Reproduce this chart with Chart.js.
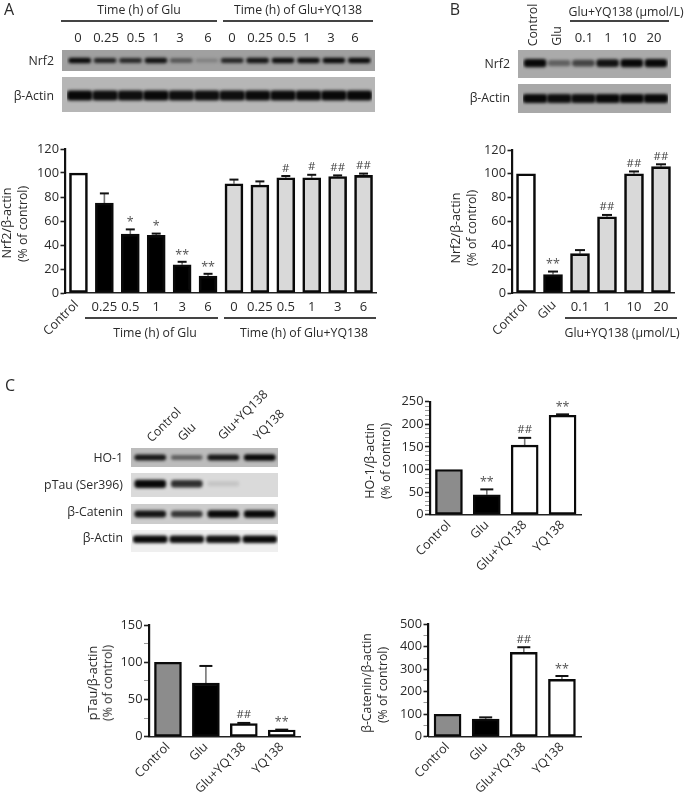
<!DOCTYPE html>
<html><head><meta charset="utf-8">
<style>
html,body{margin:0;padding:0;background:#fff;width:685px;height:793px;overflow:hidden}
#page{position:relative;width:685px;height:793px;filter:blur(0.45px)}
canvas{position:absolute}
.t{position:absolute;white-space:nowrap;color:#2a2a2a;font-family:"Open Sans",sans-serif;line-height:1}
.r{position:absolute;background:#444}
</style>
<script src="https://cdn.jsdelivr.net/npm/chart.js@4"></script>
</head><body><div id="page"></div>
<script>
// ---------- Panel A bars ----------
const catsA = ['Control','0.25','0.5','1','3','6','0','0.25','0.5','1','3','6'];
const valsA = [100,75,49,48,23.5,14,91,90,96,96,97,98];
const errsA = [100,83,53,49.5,26,16,94.5,93,97.5,98.5,98,99.5];
const marksA = ['','','*','*','**','**','','','#','#','##','##'];
const fillsA = ['#ffffff','#000','#000','#000','#000','#000','#d9d9d9','#d9d9d9','#d9d9d9','#d9d9d9','#d9d9d9','#d9d9d9'];
// ---------- Panel B bars ----------
const catsB = ['Control','Glu','0.1','1','10','20'];
const valsB = [100,15.5,33,64,100,106];
const errsB = [100,18,36,65.5,102,108];
const marksB = ['','**','','##','##','##'];
const fillsB = ['#ffffff','#000','#d9d9d9','#d9d9d9','#d9d9d9','#d9d9d9'];
// ---------- Panel C bars ----------
const catsC = ['Control','Glu','Glu+YQ138','YQ138'];
const fillsC = ['#8c8c8c','#000','#ffffff','#ffffff'];
const valsHO = [100,44,154,220];
const errsHO = [100,56,170,222];
const marksHO = ['','**','##','**'];
const valsTau = [100,72,17.5,9];
const errsTau = [100,95,18.5,9.5];
const marksTau = ['','','##','**'];
const valsCat = [100,78,375,255];
const errsCat = [100,86,398,270];
const marksCat = ['','','##','**'];
// ---------- Blot band strengths (0..1) per lane ----------
const laneA = ['0','0.25','0.5','1','3','6','0','0.25','0.5','1','3','6'];
const nrf2A = [1,.82,.78,.92,.5,.22,.8,.9,.95,.95,.97,.97];
const actinA = [1,.95,.95,1,.95,.95,.95,.97,.97,.97,1,1];
const laneB = ['Control','Glu','0.1','1','10','20'];
const nrf2B = [1,.45,.62,.92,1,1];
const actinB = [1,.95,.95,1,1,1];
const laneC = ['Control','Glu','Glu+YQ138','YQ138'];
const ho1C = [.9,.5,.9,1];
const tauC = [1,.8,.1,0];
const cateninC = [.92,.75,1,1];
const actinC = [1,.95,.95,1];

const FONT='"Open Sans",sans-serif';
const page=document.getElementById('page');

function text(s,x,y,opt={}){
  const d=document.createElement('div');d.className='t';d.textContent=s;
  const size=opt.size||12.3;
  d.style.fontSize=size+'px';d.style.left=x+'px';d.style.top=y+'px';
  const tx=opt.right?'-100%':'-50%';
  d.style.transform=`translate(${tx},-50%) rotate(${opt.rot||0}deg)`;
  if(opt.color)d.style.color=opt.color;
  page.appendChild(d);
}
function rule(x1,x2,y){
  const d=document.createElement('div');d.className='r';
  d.style.left=x1+'px';d.style.top=(y-0.6)+'px';d.style.width=(x2-x1)+'px';d.style.height='1.2px';
  page.appendChild(d);
}
function mkCanvas(x,y,w,h){
  const c=document.createElement('canvas');c.width=w;c.height=h;
  c.style.left=x+'px';c.style.top=y+'px';c.style.width=w+'px';c.style.height=h+'px';
  page.appendChild(c);return c;
}

const errPlugin={id:'err',
  beforeDatasetsDraw(chart){
    const o=chart.config.options.plugins.err,y=chart.scales.y,ctx=chart.ctx,m=chart.getDatasetMeta(0);
    ctx.save();
    o.tops.forEach((t,i)=>{
      if(t<=o.vals[i])return;
      const x=m.data[i].x,p=y.getPixelForValue(t),b=y.getPixelForValue(o.vals[i]);
      ctx.strokeStyle='#777';ctx.lineWidth=1.6;ctx.beginPath();ctx.moveTo(x,b);ctx.lineTo(x,p);ctx.stroke();
      ctx.strokeStyle='#111';ctx.lineWidth=2;ctx.beginPath();ctx.moveTo(x-o.cap/2,p);ctx.lineTo(x+o.cap/2,p);ctx.stroke();
    });
    ctx.restore();
  },
  afterDatasetsDraw(chart){
    const o=chart.config.options.plugins.err,y=chart.scales.y,ctx=chart.ctx,m=chart.getDatasetMeta(0);
    ctx.save();ctx.textAlign='center';ctx.textBaseline='alphabetic';
    o.marks.forEach((s,i)=>{
      if(!s)return;
      const x=m.data[i].x,p=y.getPixelForValue(Math.max(o.tops[i],o.vals[i]));
      const star=s[0]==='*';
      ctx.fillStyle=star?'#555':'#444';
      ctx.font=(star?'12.5px ':'11.5px ')+FONT;
      ctx.fillText(s,x,p-(star?3.2:4.5));
    });
    ctx.restore();
  }
};

function barChart(c){
  const box=c.box,a=c.area;
  const cv=mkCanvas(box[0],box[1],box[2],box[3]);
  const major=c.major;
  new Chart(cv,{
    type:'bar',
    data:{labels:c.cats,datasets:[{data:c.vals,backgroundColor:c.fills,borderColor:'#0a0a0a',borderWidth:c.bw||2.6,borderSkipped:false,barThickness:c.bar}]},
    plugins:[errPlugin],
    options:{
      responsive:false,animation:false,devicePixelRatio:1,
      layout:{autoPadding:false,padding:{left:0,top:a[1]-box[1],right:box[0]+box[2]-a[2],bottom:0}},
      plugins:{legend:{display:false},tooltip:{enabled:false},err:{tops:c.errs,vals:c.vals,marks:c.marks,cap:c.cap}},
      scales:{
        x:{type:'category',offset:true,
          afterFit(s){s.height=box[1]+box[3]-a[3];},
          grid:{display:true,drawOnChartArea:false,drawTicks:false},
          border:{color:'#222',width:1.6},
          ticks:{font:{family:FONT,size:c.xSize||13},color:'#2a2a2a',padding:c.xPad,autoSkip:false,
            minRotation:c.rot||0,maxRotation:c.rot||0,
            callback(v,i){const l=this.getLabelForValue(v);return c.hide&&c.hide.includes(i)?'':l;}}
        },
        y:{type:'linear',min:0,max:c.max,
          afterFit(s){s.width=a[0]-box[0];},
          grid:{drawOnChartArea:false,drawTicks:true,tickLength:5,
            tickColor:t=>t.tick&&t.tick.value%major===0?'#222':'#999',
            tickWidth:t=>t.tick&&t.tick.value%major===0?1.6:1},
          border:{color:'#111',width:2.2},
          ticks:{stepSize:c.step,autoSkip:false,font:{family:FONT,size:12.8},color:'#2a2a2a',padding:1.5,
            callback:v=>v%major===0?String(v):''}
        }
      }
    }
  });
}

const blurPlugin={id:'blur',
  beforeDraw(chart){const o=chart.config.options.plugins.blur,ctx=chart.ctx;ctx.save();ctx.fillStyle=o.bg;ctx.fillRect(0,0,chart.width,chart.height);ctx.restore();},
  beforeDatasetsDraw(chart){chart.ctx.save();chart.ctx.filter='blur('+chart.config.options.plugins.blur.px+'px)';},
  afterDatasetsDraw(chart){chart.ctx.restore();}
};
function blot(c){
  const r=c.rect;
  const cv=mkCanvas(r[0],r[1],r[2]-r[0],r[3]-r[1]);
  const cy=c.cy,h=c.h;
  new Chart(cv,{
    type:'bar',
    data:{labels:c.lanes,datasets:[{
      data:c.vals.map(v=>[cy-h*(0.5+0.5*v)/2,cy+h*(0.5+0.5*v)/2]),
      backgroundColor:c.vals.map(v=>`rgba(8,8,8,${Math.min(1,v*1.02)})`),
      borderSkipped:false,borderRadius:c.rad||3,barThickness:c.w}]},
    plugins:[blurPlugin],
    options:{responsive:false,animation:false,devicePixelRatio:1,
      layout:{autoPadding:false,padding:{left:c.lanesAt[0]-r[0],right:r[2]-c.lanesAt[1],top:0,bottom:0}},
      plugins:{legend:{display:false},tooltip:{enabled:false},blur:{bg:c.bg,px:c.px||1.5}},
      scales:{x:{display:false,offset:true},y:{display:false,min:0,max:1}}
    }
  });
}

// ===== Blots =====
blot({rect:[62,50,375,71],lanes:laneA,vals:nrf2A,cy:.5,h:.24,w:22,bg:'#a0a0a0',lanesAt:[67,372]});
blot({rect:[62,77,375,112],lanes:laneA,vals:actinA,cy:.47,h:.27,w:25,bg:'#b6b6b6',lanesAt:[67,372]});
blot({rect:[518,50,671,78],lanes:laneB,vals:nrf2B,cy:.53,h:.27,w:22,bg:'#aaaaaa',lanesAt:[523,668]});
blot({rect:[518,84,671,113],lanes:laneB,vals:actinB,cy:.5,h:.29,w:24,bg:'#a8a8a8',lanesAt:[523,668]});
blot({rect:[131,448,278,467],lanes:laneC,vals:ho1C,cy:.5,h:.3,w:31,bg:'#bcbcbc',lanesAt:[132,278]});
blot({rect:[131,473,278,497],lanes:laneC,vals:tauC,cy:.55,h:.32,w:31,bg:'#dadada',lanesAt:[132,278]});
blot({rect:[131,504,278,524],lanes:laneC,vals:cateninC,cy:.5,h:.34,w:31,bg:'#cccccc',lanesAt:[132,278]});
blot({rect:[131,530,278,552],lanes:laneC,vals:actinC,cy:.58,h:.32,w:34,bg:'#efefef',lanesAt:[132,278]});

// ===== Bar charts =====
barChart({box:[0,135,400,180],area:[65.5,149,376.5,293],cats:catsA,vals:valsA,errs:errsA,marks:marksA,fills:fillsA,
  bar:18,cap:9,max:120,step:20,major:20,xPad:6,hide:[0]});
barChart({box:[470,135,215,180],area:[512.5,150,674.5,293],cats:catsB,vals:valsB,errs:errsB,marks:marksB,fills:fillsB,
  bar:19,cap:10,max:120,step:20,major:20,xPad:6,hide:[0,1]});
barChart({box:[385,390,215,190],area:[430,401.7,581.5,514.7],cats:catsC,vals:valsHO,errs:errsHO,marks:marksHO,fills:fillsC,
  bar:27,cap:13,max:250,step:10,major:50,xPad:3,rot:45,xSize:12.5,bw:2.4});
barChart({box:[110,615,215,178],area:[149,625,300.7,736.7],cats:catsC,vals:valsTau,errs:errsTau,marks:marksTau,fills:fillsC,
  bar:27,cap:13,max:150,step:25,major:50,xPad:3,rot:45,xSize:12.5,bw:2.4});
barChart({box:[385,615,215,178],area:[428.5,624.3,581,736.7],cats:catsC,vals:valsCat,errs:errsCat,marks:marksCat,fills:fillsC,
  bar:27,cap:13,max:500,step:50,major:100,xPad:3,rot:45,xSize:12.5,bw:2.4});

// ===== Text: panel A =====
text('A',9,9,{size:16});
text('Time (h) of Glu',139,10);
text('Time (h) of Glu+YQ138',298,10);
rule(61,217,21);rule(223,373,21);
[[78,'0'],[106,'0.25'],[136,'0.5'],[156,'1'],[180,'3'],[208,'6'],[232,'0'],[260,'0.25'],[287,'0.5'],[307,'1'],[331,'3'],[355,'6']]
  .forEach(p=>text(p[1],p[0],37,{size:13}));
text('Nrf2',54,61,{right:1});
text('β-Actin',54,96,{right:1});
text('Nrf2/β-actin',7,223,{rot:-90,size:12.6});
text('(% of control)',23,224,{rot:-90});
text('Control',61,318,{rot:-45,size:12.5});
rule(85,218,318);rule(224,376,318);
text('Time (h) of Glu',155,333);
text('Time (h) of Glu+YQ138',304,333);

// ===== Text: panel B =====
text('B',455,9,{size:16});
text('Control',533,25,{rot:-90});
text('Glu',557,36,{rot:-90});
text('Glu+YQ138 (μmol/L)',626,12);
rule(570,669,21);
[[584,'0.1'],[608,'1'],[629,'10'],[654,'20']].forEach(p=>text(p[1],p[0],37,{size:13}));
text('Nrf2',510,64,{right:1});
text('β-Actin',510,98,{right:1});
text('Nrf2/β-actin',456,228,{rot:-90,size:12.6});
text('(% of control)',472,228,{rot:-90});
text('Control',510,318,{rot:-45,size:12.5});
text('Glu',547,310,{rot:-45,size:12.5});
rule(565,677,318);
text('Glu+YQ138 (μmol/L)',622,333);

// ===== Text: panel C =====
text('C',10,385,{size:16});
text('Control',164,425,{rot:-45});
text('Glu',187,432,{rot:-45});
text('Glu+YQ138',243,415,{rot:-45});
text('YQ138',269,425,{rot:-45});
text('HO-1',123,458,{right:1});
text('pTau (Ser396)',123,485,{right:1});
text('β-Catenin',123,512,{right:1});
text('β-Actin',123,538,{right:1});
text('HO-1/β-actin',370,461,{rot:-90,size:12.6});
text('(% of control)',386,461,{rot:-90});
text('pTau/β-actin',93,683,{rot:-90,size:12.6});
text('(% of control)',108,683,{rot:-90});
text('β-Catenin/β-actin',367,683,{rot:-90});
text('(% of control)',383,685,{rot:-90});
</script>
</body></html>
